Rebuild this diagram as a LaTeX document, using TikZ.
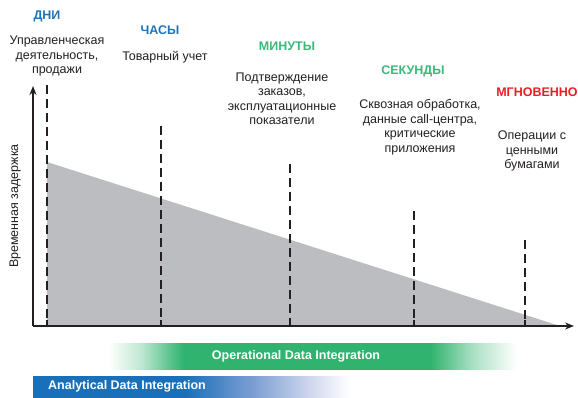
\documentclass[tikz,border=0pt]{standalone}
\usepackage{fontspec}
\setmainfont{Liberation Sans}
\usetikzlibrary{arrows.meta,positioning}
\definecolor{ltInk}  {HTML}{231F20}
\definecolor{ltBlue} {HTML}{1C75BC}
\definecolor{ltGreen}{HTML}{3BB878}
\definecolor{ltRed}  {HTML}{ED1C24}
\definecolor{ltFill} {HTML}{BCBDC0}
\definecolor{ltOper} {HTML}{2FB36E}
\definecolor{ltAnal} {HTML}{1A70B8}
\definecolor{ltPeri} {HTML}{7F9FD4}
\definecolor{ltPale} {HTML}{C9D3EA}

% bars fade in and out along x
\pgfdeclarehorizontalshading{operShade}{100bp}{color(0bp)=(white); color(32bp)=(white);
  color(35bp)=(ltOper!30); color(39bp)=(ltOper); color(62bp)=(ltOper);
  color(66bp)=(ltOper!40); color(70bp)=(white); color(100bp)=(white)}
\pgfdeclarehorizontalshading{analShade}{100bp}{color(0bp)=(ltAnal); color(49bp)=(ltAnal);
  color(60bp)=(ltPeri); color(68bp)=(ltPale); color(75bp)=(white); color(100bp)=(white)}

\tikzset{
  head/.style={font=\fontsize{12.5}{14}\selectfont\bfseries},
  desc/.style={font=\fontsize{12.5}{14.5}\selectfont,text=ltInk,align=center,inner sep=0pt},
  guide/.style={draw=ltInk,line width=1.3pt,dash pattern=on 9pt off 5pt},
  tick/.style={draw=ltInk,line width=1.3pt},
  axis/.style={draw=ltInk,line width=2pt,-{Stealth[length=9pt,width=7pt]}},
  barlabel/.style={font=\fontsize{12.5}{14}\selectfont\bfseries,text=white,inner sep=0pt}
}

\begin{document}
\begin{tikzpicture}[x=1pt,y=-1pt]
  \useasboundingbox (0,0) rectangle (578,398);

  % latency area
  \coordinate (origin) at (33,326);
  \coordinate (fillTop) at (47,162);
  \coordinate (fillEnd) at (560,326);
  \coordinate (fillBase) at (47,326);
  \fill[ltFill] (fillTop) -- (fillEnd) -- (fillBase) -- cycle;

  % guides
  \foreach \name/\xx/\yy in {days/47/85,hours/161/126,mins/290/164,secs/414/211,now/525/240}{
    \coordinate (\name Top) at (\xx,\yy);
    \coordinate (\name Bot) at (\xx,326);
    \draw[guide] (\name Top) -- (\name Bot);
    \draw[tick] (\name Bot) -- ++(0,-6);
  }

  % axes
  \coordinate (yEnd) at (33,86);
  \coordinate (xEnd) at (574,326);
  \draw[axis] (origin) -- (yEnd);
  \draw[axis] (origin) -- (xEnd);
  \node[desc,rotate=90] (latency) at (15,206) {Временная задержка};

  % headings
  \node[head,text=ltBlue]  (days)  at (47,16)  {ДНИ};
  \node[head,text=ltBlue]  (hours) at (160,30) {ЧАСЫ};
  \node[head,text=ltGreen] (mins)  at (287,46) {МИНУТЫ};
  \node[head,text=ltGreen] (secs)  at (413,71) {СЕКУНДЫ};
  \node[head,text=ltRed]   (now)   at (537,92) {МГНОВЕННО};

  % descriptions
  \node[desc] (daysTxt)  at (57,56)   {Управленческая\\деятельность,\\продажи};
  \node[desc] (hoursTxt) at (165,57)  {Товарный учет};
  \node[desc] (minsTxt)  at (282,99)  {Подтверждение\\заказов,\\эксплуатационные\\показатели};
  \node[desc] (secsTxt)  at (420,127) {Сквозная обработка,\\данные call-центра,\\критические\\приложения};
  \node[desc] (nowTxt)   at (532,151) {Операции с\\ценными\\бумагами};

  % integration bars
  \shade[shading=operShade] (33,343) rectangle (570,369);
  \node[barlabel] (oper) at (296,356) {Operational Data Integration};
  \shade[shading=analShade] (33,376) rectangle (350,397);
  \node[barlabel,anchor=west] (anal) at (48,386.5) {Analytical Data Integration};
\end{tikzpicture}
\end{document}
